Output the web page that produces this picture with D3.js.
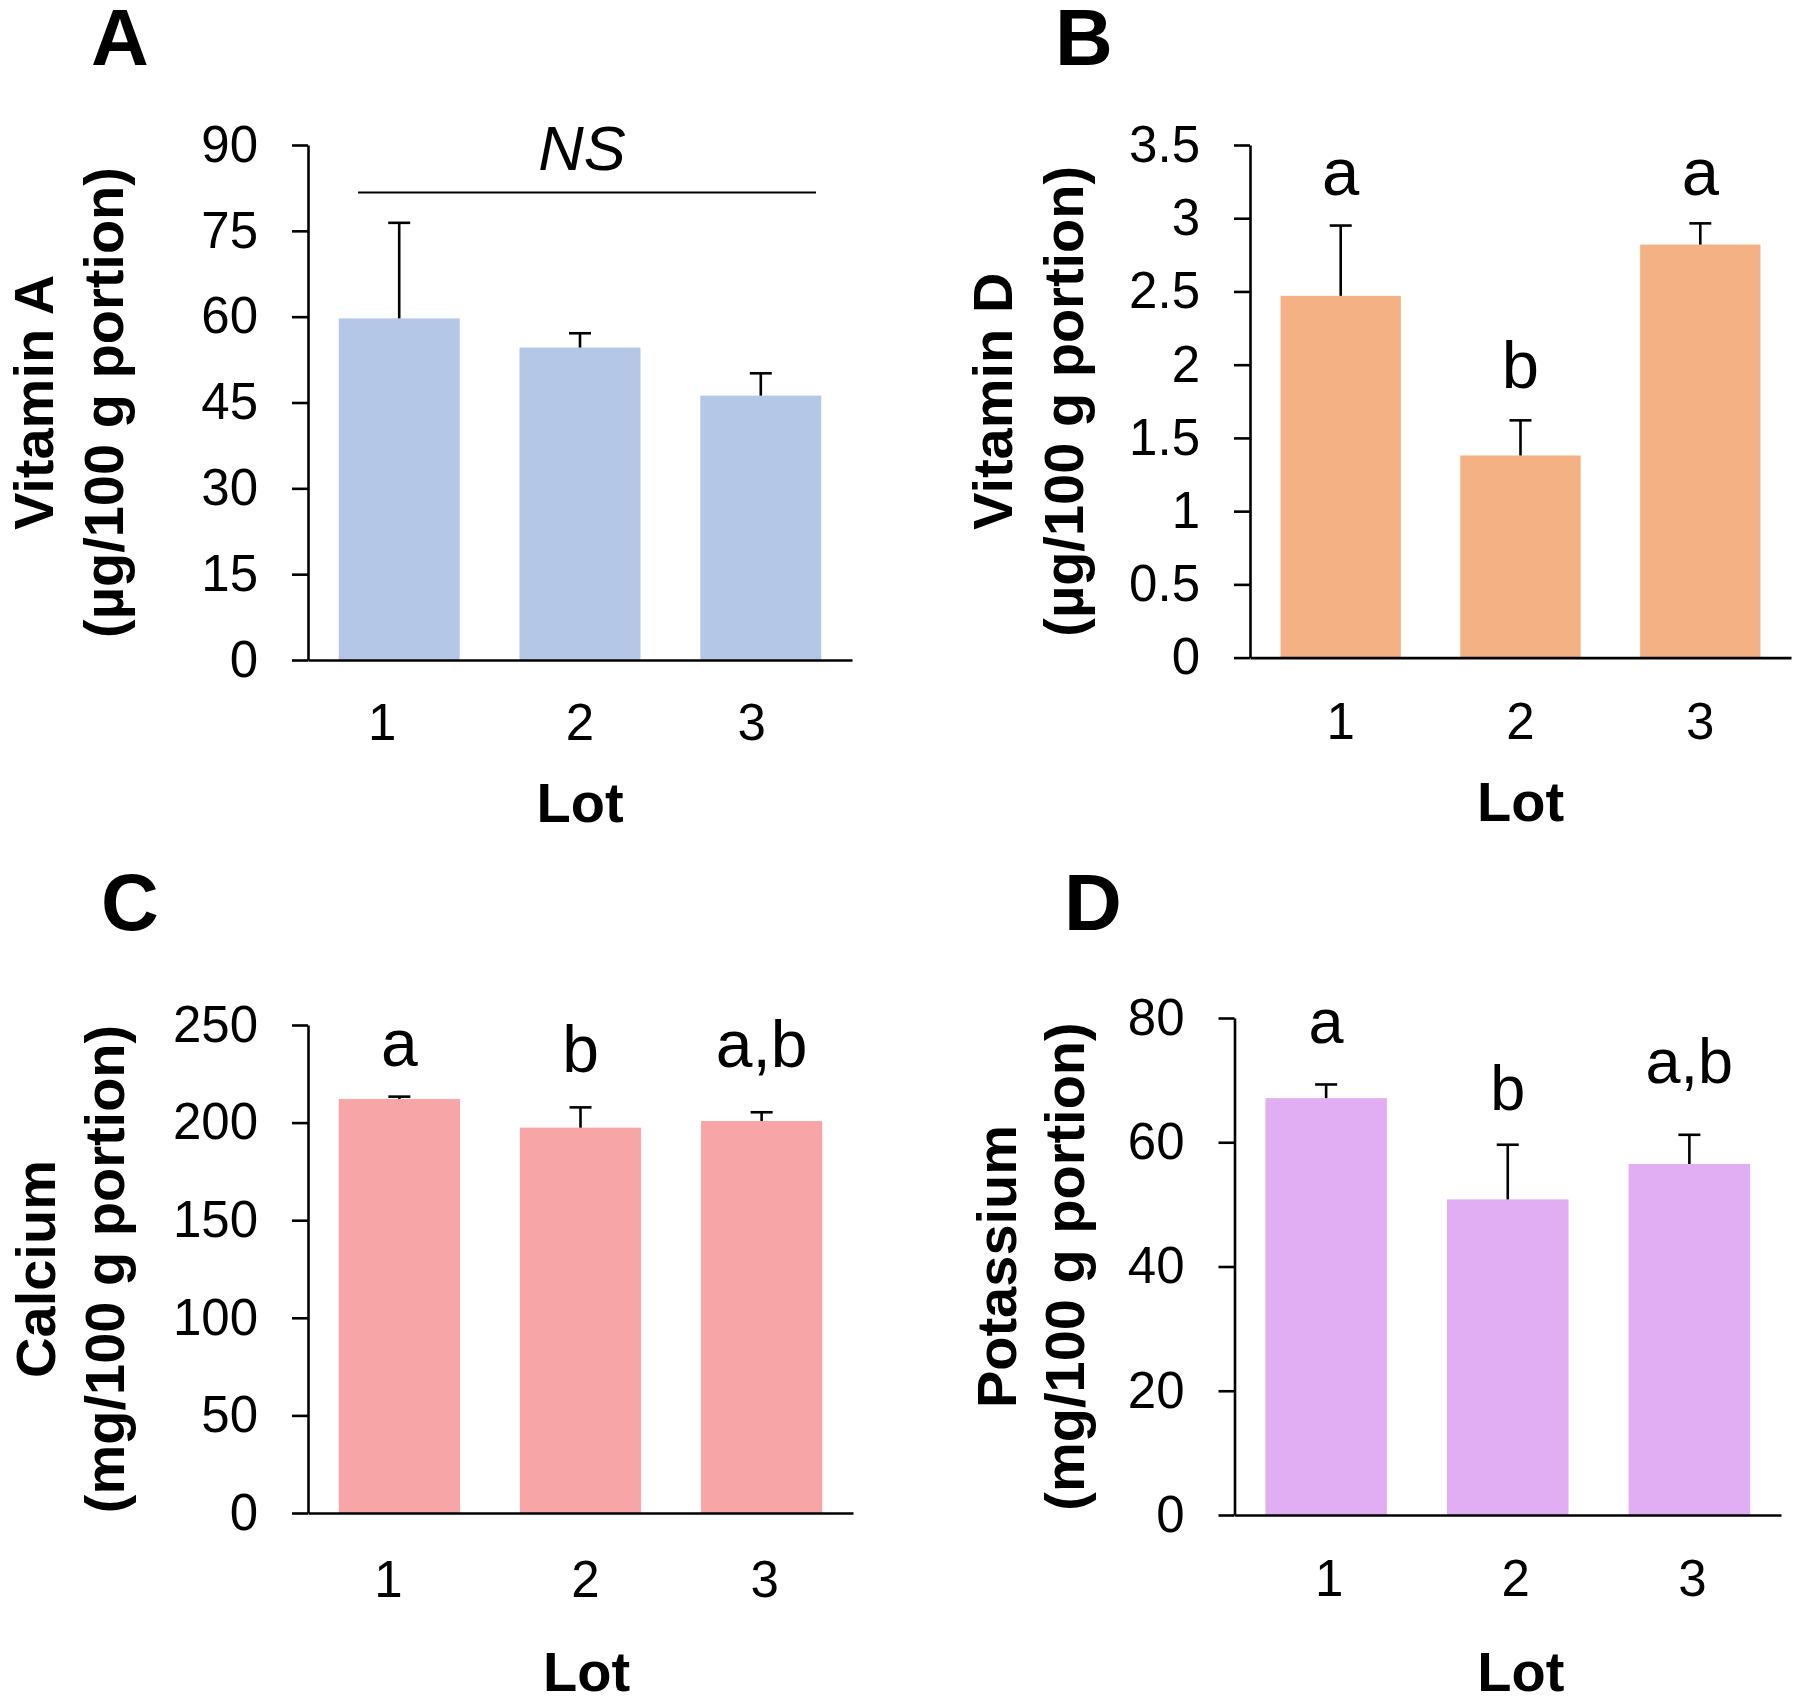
<!DOCTYPE html>
<html>
<head>
<meta charset="utf-8">
<script src="https://cdn.jsdelivr.net/npm/d3@7"></script>
<style>
  html, body { margin: 0; padding: 0; background: #fff; }
  svg { display: block; }
  text { font-family: "Liberation Sans", Arial, sans-serif; fill: #000; }
</style>
</head>
<body>
<svg id="chart" width="1800" height="1696"></svg>
<script>
// ---------------- data ----------------
const lots = ["1", "2", "3"];

const vitaminA = [59.7, 54.6, 46.2];
const vitaminA_sd = [16.7, 2.5, 3.9];
const vitaminA_ticks = [0, 15, 30, 45, 60, 75, 90];
const vitaminA_note = "NS";

const vitaminD = [2.47, 1.38, 2.82];
const vitaminD_sd = [0.48, 0.24, 0.145];
const vitaminD_ticks = [0, 0.5, 1, 1.5, 2, 2.5, 3, 3.5];
const vitaminD_letters = ["a", "b", "a"];

const calcium = [212.1, 197.4, 200.8];
const calcium_sd = [1.2, 10.4, 4.5];
const calcium_ticks = [0, 50, 100, 150, 200, 250];
const calcium_letters = ["a", "b", "a,b"];

const potassium = [67.1, 50.8, 56.5];
const potassium_sd = [2.2, 8.8, 4.7];
const potassium_ticks = [0, 20, 40, 60, 80];
const potassium_letters = ["a", "b", "a,b"];

// ---------------- layout / style ----------------
const panels = [
  { tag: "A", values: vitaminA, sd: vitaminA_sd, ticks: vitaminA_ticks, max: 90,
    color: "#B4C7E7", title1: "Vitamin A", title2: "(µg/100 g portion)",
    x0: 308, x1: 852, yTop: 145, yBot: 660,
    tagX: 120, tagY: 65, t1X: 53, t2X: 123, lotY: 822, lotNudge: 0, xLabY: 80,
    xNudge: [-17, 0, -9],
    note: vitaminA_note, noteY: 85.6, lineY: 81.7, lineX: [358, 816], noteX: 582 },
  { tag: "B", values: vitaminD, sd: vitaminD_sd, ticks: vitaminD_ticks, max: 3.5,
    color: "#F4B183", title1: "Vitamin D", title2: "(µg/100 g portion)",
    x0: 1250, x1: 1791, yTop: 145, yBot: 657.6,
    tagX: 1084, tagY: 65, t1X: 1012, t2X: 1083, lotY: 821, lotNudge: 0, xLabY: 81,
    xNudge: [0, 0, 0],
    letters: vitaminD_letters, letterY: [3.16, 1.84, 3.16], letterSize: 67 },
  { tag: "C", values: calcium, sd: calcium_sd, ticks: calcium_ticks, max: 250,
    color: "#F7A5A6", title1: "Calcium", title2: "(mg/100 g portion)",
    x0: 308, x1: 853, yTop: 1025, yBot: 1513,
    tagX: 130, tagY: 930, t1X: 55, t2X: 124, lotY: 1691, lotNudge: 6, xLabY: 84,
    xNudge: [-11, 5, 3],
    letters: calcium_letters, letterY: [229, 226, 228.5], letterSize: 66 },
  { tag: "D", values: potassium, sd: potassium_sd, ticks: potassium_ticks, max: 80,
    color: "#E1AEF4", title1: "Potassium", title2: "(mg/100 g portion)",
    x0: 1234.5, x1: 1781, yTop: 1018, yBot: 1515,
    tagX: 1093, tagY: 930, t1X: 1016, t2X: 1084, lotY: 1691, lotNudge: 13, xLabY: 81,
    xNudge: [3, 8, 3],
    letters: potassium_letters, letterY: [75.9, 65.2, 69.6], letterSize: 63 }
];

const svg = d3.select("#chart");
svg.append("rect").attr("width", 1800).attr("height", 1696).attr("fill", "#fff");

const AXIS_W = 2.6;
const TICK_FS = 51;
const TITLE_FS = 56;

panels.forEach(p => {
  const g = svg.append("g");
  const x = d3.scaleBand().domain(lots).range([p.x0, p.x1])
    .paddingInner(0.331).paddingOuter(0.17);
  const y = d3.scaleLinear().domain([0, p.max]).range([p.yBot, p.yTop]);

  // bars
  g.selectAll("rect.bar").data(p.values).join("rect")
    .attr("class", "bar")
    .attr("x", (d, i) => x(lots[i]))
    .attr("width", x.bandwidth())
    .attr("y", d => y(d))
    .attr("height", d => y(0) - y(d))
    .attr("fill", p.color);

  // error bars (upper only)
  const capHalf = 11;
  p.values.forEach((v, i) => {
    const cx = x(lots[i]) + x.bandwidth() / 2;
    g.append("line").attr("x1", cx).attr("x2", cx)
      .attr("y1", y(v)).attr("y2", y(v + p.sd[i]))
      .attr("stroke", "#000").attr("stroke-width", 2.6);
    g.append("line").attr("x1", cx - capHalf).attr("x2", cx + capHalf)
      .attr("y1", y(v + p.sd[i])).attr("y2", y(v + p.sd[i]))
      .attr("stroke", "#000").attr("stroke-width", 2.6);
  });

  // y axis
  const yAxis = d3.axisLeft(y).tickValues(p.ticks).tickSize(16).tickSizeOuter(0)
    .tickPadding(34).tickFormat(d => String(d));
  const ya = g.append("g").attr("transform", `translate(${p.x0},0)`).call(yAxis);
  ya.select(".domain").attr("stroke", "#000").attr("stroke-width", AXIS_W);
  ya.selectAll(".tick line").attr("stroke", "#000").attr("stroke-width", AXIS_W);
  ya.selectAll(".tick text").attr("font-size", TICK_FS)
    .attr("font-family", "Liberation Sans, Arial, sans-serif").attr("fill", "#000");

  // x axis
  const xAxis = d3.axisBottom(x).tickSize(0).tickSizeOuter(0);
  const xa = g.append("g").attr("transform", `translate(0,${p.yBot})`).call(xAxis);
  xa.select(".domain").attr("stroke", "#000").attr("stroke-width", AXIS_W);
  xa.selectAll(".tick text").attr("font-size", TICK_FS)
    .attr("font-family", "Liberation Sans, Arial, sans-serif").attr("fill", "#000")
    .attr("y", p.xLabY).attr("dy", 0)
    .attr("dx", (d, i) => p.xNudge[i]);

  // x axis title
  g.append("text").attr("x", (x(lots[1]) + x.bandwidth() / 2) + p.lotNudge).attr("y", p.lotY)
    .attr("text-anchor", "middle").attr("font-size", TITLE_FS).attr("font-weight", "bold")
    .text("Lot");

  // y axis title (two lines)
  const cy = (p.yTop + p.yBot) / 2;
  g.append("text").attr("transform", `translate(${p.t1X},${cy}) rotate(-90)`)
    .attr("text-anchor", "middle").attr("font-size", TITLE_FS).attr("font-weight", "bold")
    .text(p.title1);
  g.append("text").attr("transform", `translate(${p.t2X},${cy}) rotate(-90)`)
    .attr("text-anchor", "middle").attr("font-size", TITLE_FS).attr("font-weight", "bold")
    .text(p.title2);

  // panel tag
  g.append("text").attr("x", p.tagX).attr("y", p.tagY).attr("text-anchor", "middle")
    .attr("font-size", 80).attr("font-weight", "bold").text(p.tag);

  // significance letters
  if (p.letters) {
    p.letters.forEach((l, i) => {
      g.append("text").attr("x", x(lots[i]) + x.bandwidth() / 2)
        .attr("y", y(p.letterY[i])).attr("text-anchor", "middle")
        .attr("font-size", p.letterSize).text(l);
    });
  }
  if (p.note) {
    g.append("line").attr("x1", p.lineX[0]).attr("x2", p.lineX[1])
      .attr("y1", y(p.lineY)).attr("y2", y(p.lineY))
      .attr("stroke", "#000").attr("stroke-width", 2.2);
    g.append("text").attr("x", p.noteX).attr("y", y(p.noteY)).attr("text-anchor", "middle")
      .attr("font-size", 63).attr("font-style", "italic").text(p.note);
  }
});
</script>
</body>
</html>
